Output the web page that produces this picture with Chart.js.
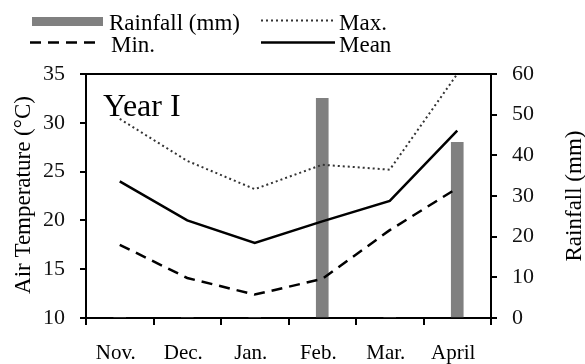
<!DOCTYPE html>
<html>
<head>
<meta charset="utf-8">
<script src="https://cdn.jsdelivr.net/npm/chart.js@4/dist/chart.umd.min.js"></script>
<style>
  html, body { margin: 0; padding: 0; background: #fff; }
  #wrap { width: 585px; height: 364px; position: relative; }
</style>
</head>
<body>
<div id="wrap"><canvas id="c" width="585" height="364"></canvas></div>
<script>
const months = ["Nov.", "Dec.", "Jan.", "Feb.", "Mar.", "April"];
const rainfall = [0, 0, 0, 54.0, 0, 43.2];
const tMax = [30.4, 26.1, 23.2, 25.7, 25.2, 35.0];
const tMin = [17.5, 14.1, 12.4, 14.0, 19.0, 23.3];
const tMean = [24.0, 20.0, 17.7, 19.9, 22.0, 29.2];
const tempTicks = [10, 15, 20, 25, 30, 35];
const rainTicks = [0, 10, 20, 30, 40, 50, 60];
const panelLabel = "Year I";
const leftTitle = "Air Temperature (\u00B0C)";
const rightTitle = "Rainfall (mm)";

const FONT = "'Liberation Serif', 'Times New Roman', serif";

const decor = {
  id: 'decor',
  afterDraw(chart) {
    const ctx = chart.ctx;
    const a = chart.chartArea;
    ctx.save();
    // top border
    ctx.strokeStyle = '#000';
    ctx.lineWidth = 2;
    ctx.beginPath();
    ctx.moveTo(a.left - 1, a.top);
    ctx.lineTo(a.right + 1, a.top);
    ctx.stroke();

    // panel label
    ctx.fillStyle = '#000';
    ctx.font = '32px ' + FONT;
    ctx.textBaseline = 'alphabetic';
    ctx.textAlign = 'left';
    ctx.fillText(panelLabel, 103, 116);

    // axis titles
    ctx.font = '23px ' + FONT;
    ctx.textAlign = 'center';
    ctx.textBaseline = 'middle';
    ctx.save();
    ctx.translate(24, 195);
    ctx.rotate(-Math.PI / 2);
    ctx.fillText(leftTitle, 0, 0);
    ctx.restore();
    ctx.save();
    ctx.translate(575, 196);
    ctx.rotate(-Math.PI / 2);
    ctx.fillText(rightTitle, 0, 0);
    ctx.restore();

    // legend
    const ds = chart.data.datasets;
    ctx.font = '23px ' + FONT;
    ctx.textAlign = 'left';
    ctx.textBaseline = 'alphabetic';
    // rainfall
    ctx.fillStyle = ds[0].backgroundColor;
    ctx.fillRect(32, 17, 71, 9);
    ctx.fillStyle = '#000';
    ctx.fillText(ds[0].label, 109, 30);
    const lineItem = (d, x1, x2, y, tx, ty) => {
      ctx.strokeStyle = d.borderColor;
      ctx.lineWidth = d.borderWidth;
      ctx.setLineDash(d.borderDash || []);
      ctx.beginPath();
      ctx.moveTo(x1, y);
      ctx.lineTo(x2, y);
      ctx.stroke();
      ctx.setLineDash([]);
      ctx.fillStyle = '#000';
      ctx.fillText(d.label, tx, ty);
    };
    lineItem(ds[1], 261, 333, 20.5, 339, 30);
    lineItem(ds[2], 30, 98, 42.5, 111, 52);
    lineItem(ds[3], 261, 335, 42.5, 339, 52);
    ctx.restore();
  }
};

new Chart(document.getElementById('c'), {
  data: {
    labels: months,
    datasets: [
      { type: 'bar', label: 'Rainfall (mm)', data: rainfall, yAxisID: 'y1',
        backgroundColor: '#808080', barThickness: 12, order: 5 },
      { type: 'line', label: 'Max.', data: tMax, yAxisID: 'y',
        borderColor: '#333', borderWidth: 2, borderDash: [2, 3],
        pointRadius: 0, tension: 0, fill: false, order: 1 },
      { type: 'line', label: 'Min.', data: tMin, yAxisID: 'y',
        borderColor: '#000', borderWidth: 2.5, borderDash: [11, 7],
        pointRadius: 0, tension: 0, fill: false, order: 1 },
      { type: 'line', label: 'Mean', data: tMean, yAxisID: 'y',
        borderColor: '#000', borderWidth: 2.5,
        pointRadius: 0, tension: 0, fill: false, order: 1 }
    ]
  },
  options: {
    responsive: false,
    animation: false,
    devicePixelRatio: 1,
    layout: { padding: { top: 74, left: 0, right: 0, bottom: 0 } },
    plugins: { legend: { display: false }, tooltip: { enabled: false } },
    scales: {
      x: {
        type: 'category',
        offset: true,
        grid: { offset: true, drawOnChartArea: false, drawTicks: true, tickLength: 7,
                tickColor: '#000', lineWidth: 2 },
        border: { display: true, color: '#000', width: 2 },
        ticks: { font: { family: FONT, size: 21 }, color: '#000', padding: 16,
                 labelOffset: -4, maxRotation: 0, autoSkip: false },
        afterFit(s) { s.height = 46; }
      },
      y: {
        position: 'left', min: 10, max: 35,
        afterBuildTicks(s) { s.ticks = tempTicks.map(v => ({ value: v })); },
        grid: { drawOnChartArea: false, drawTicks: true, tickLength: 6, tickColor: '#000', lineWidth: 2 },
        border: { display: true, color: '#000', width: 2 },
        ticks: { font: { family: FONT, size: 22 }, color: '#111', padding: 15 },
        afterFit(s) { s.width = 86; }
      },
      y1: {
        position: 'right', min: 0, max: 60,
        afterBuildTicks(s) { s.ticks = rainTicks.map(v => ({ value: v })); },
        grid: { drawOnChartArea: false, drawTicks: true, tickLength: 6, tickColor: '#000', lineWidth: 2 },
        border: { display: true, color: '#000', width: 2 },
        ticks: { font: { family: FONT, size: 22 }, color: '#111', padding: 15 },
        afterFit(s) { s.width = 94; }
      }
    }
  },
  plugins: [decor]
});
</script>
</body>
</html>
